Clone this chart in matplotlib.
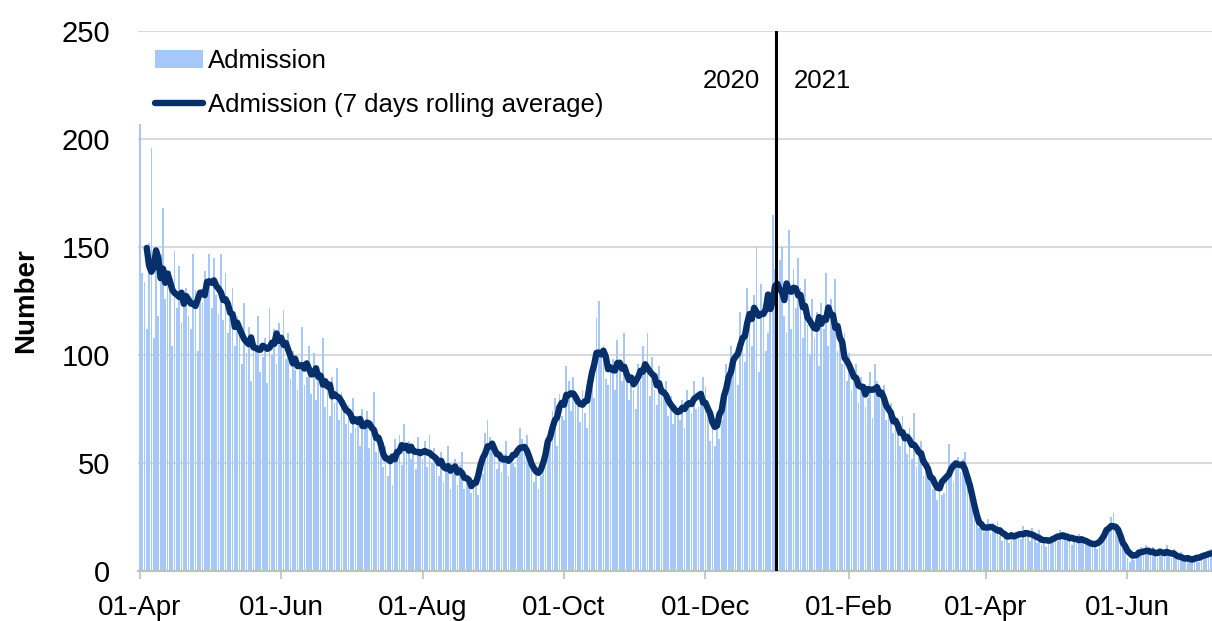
import numpy as np
import pandas as pd
import matplotlib
matplotlib.use('Agg')
import matplotlib.pyplot as plt
import matplotlib.dates as mdates

plt.rcParams['font.family'] = ['Liberation Sans', 'DejaVu Sans']

start_date = '2020-04-01'
apr20 = [207, 138, 134, 112, 152, 196, 108, 150, 118, 147, 168, 126, 132, 139, 104, 148, 122, 141, 115, 127,
         131, 118, 112, 147, 130, 102, 126, 124, 139, 134]
may20 = [147, 122, 145, 128, 119, 147, 116, 138, 110, 120, 131, 104, 118, 112, 96, 124, 101, 113, 88, 109,
         104, 118, 92, 99, 108, 87, 122, 100, 112, 96, 115]
jun20 = [104, 121, 98, 110, 89, 102, 93, 84, 97, 113, 86, 90, 104, 82, 101, 79, 95, 88, 108, 76,
         86, 72, 90, 78, 94, 70, 83, 79, 68, 77]
jul20 = [64, 80, 66, 72, 58, 75, 68, 74, 57, 66, 83, 55, 62, 60, 48, 58, 44, 53, 40, 61,
         52, 63, 49, 68, 55, 60, 52, 59, 47, 62, 54]
aug20 = [52, 60, 48, 63, 50, 57, 53, 44, 55, 41, 49, 58, 38, 47, 52, 40, 49, 55, 38, 44,
         40, 36, 39, 43, 35, 48, 45, 64, 70, 62, 57]
sep20 = [58, 47, 55, 46, 54, 60, 44, 55, 50, 48, 53, 66, 61, 58, 63, 52, 49, 41, 46, 38,
         44, 52, 48, 60, 62, 74, 80, 58, 82, 72]
oct20 = [70, 95, 88, 74, 90, 81, 78, 69, 84, 73, 66, 88, 92, 80, 117, 125, 101, 104, 89, 86,
         92, 98, 84, 107, 95, 88, 110, 93, 79, 90, 84]
nov20 = [75, 96, 88, 104, 92, 110, 81, 99, 84, 77, 95, 86, 80, 88, 72, 81, 68, 77, 74, 70,
         79, 66, 84, 79, 73, 88, 75, 76, 82, 90]
dec20 = [85, 78, 60, 74, 58, 66, 61, 70, 82, 96, 88, 104, 91, 98, 86, 120, 108, 97, 131, 115,
         104, 128, 150, 92, 133, 118, 102, 110, 128, 165, 140]
jan21 = [86, 144, 150, 118, 110, 158, 112, 140, 122, 145, 131, 108, 135, 114, 100, 126, 108, 120, 95, 124,
         112, 138, 104, 126, 115, 135, 102, 110, 96, 110, 88]
feb21 = [101, 84, 92, 96, 78, 90, 85, 76, 80, 92, 71, 96, 88, 84, 79, 86, 70, 75, 78, 64,
         72, 68, 58, 72, 60, 54, 66, 52]
mar21 = [73, 48, 56, 60, 44, 52, 49, 46, 38, 42, 33, 40, 35, 36, 44, 59, 50, 41, 48, 53,
         46, 52, 55, 48, 44, 30, 28, 22, 20, 21, 18]
apr21 = [19, 24, 17, 22, 20, 23, 16, 14, 19, 18, 13, 17, 15, 16, 18, 15, 21, 16, 19, 14,
         20, 17, 13, 19, 12, 15, 11, 14, 16, 13]
may21 = [17, 14, 19, 15, 18, 16, 17, 12, 15, 13, 17, 14, 16, 13, 15, 12, 11, 13, 10, 14,
         12, 18, 16, 21, 25, 27, 19, 20, 17, 14, 12]
jun21 = [6, 4, 8, 5, 9, 7, 11, 8, 12, 9, 7, 11, 8, 6, 10, 7, 9, 12, 8, 6,
         10, 7, 5, 9, 6, 4, 5, 6, 5, 7]
jul21 = [6, 4, 7, 8, 6, 9, 10, 8, 7, 9]

tick_dates = ['2020-04-01', '2020-06-01', '2020-08-01', '2020-10-01', '2020-12-01',
              '2021-02-01', '2021-04-01', '2021-06-01']
y_ticks = [0, 50, 100, 150, 200, 250]
year_labels = ['2020', '2021']
year_break = '2021-01-01'

admissions = (apr20 + may20 + jun20 + jul20 + aug20 + sep20 + oct20 + nov20 + dec20 +
              jan21 + feb21 + mar21 + apr21 + may21 + jun21 + jul21)
dates = pd.date_range(start_date, periods=len(admissions), freq='D')
series = pd.Series(admissions, index=dates, dtype=float)
rolling = series.rolling(7, center=True).mean()

fig = plt.figure(figsize=(12.12, 6.21), dpi=100)
ax = fig.add_axes([0.114, 0.0805, 0.886, 0.8695])

bar_color = '#a6c8f8'
line_color = '#07306b'

bars = ax.bar(dates, series.values, width=0.75, color=bar_color, label='Admission', zorder=2)
line, = ax.plot(dates, rolling.values, color=line_color, lw=4.6,
                label='Admission (7 days rolling average)',
                zorder=3, solid_capstyle='round', solid_joinstyle='round')

brk = mdates.date2num(pd.Timestamp(year_break)) - 0.5
ax.axvline(brk, color='black', lw=2.2, zorder=4)
ax.text(brk - 7, 227, year_labels[0], ha='right', va='center', fontsize=18.5)
ax.text(brk + 7.5, 227, year_labels[1], ha='left', va='center', fontsize=18.5)

x0 = mdates.date2num(pd.Timestamp(start_date)) - 0.7
x1 = mdates.date2num(pd.Timestamp(start_date)) + 462.5
ax.set_xlim(x0, x1)
ax.set_ylim(0, 250)
ax.set_yticks(y_ticks)
ax.yaxis.grid(True, color='#d9d9d9', lw=1.5, zorder=0)
ax.set_axisbelow(True)

ax.set_xticks([mdates.date2num(pd.Timestamp(d)) for d in tick_dates])
ax.xaxis.set_major_formatter(mdates.DateFormatter('%d-%b'))
ax.tick_params(axis='x', length=6, width=1.2, color='#bfbfbf', labelsize=20, pad=11)
ax.tick_params(axis='y', length=0, labelsize=21, pad=20)

for side in ['top', 'right', 'left']:
    ax.spines[side].set_visible(False)
ax.spines['bottom'].set_color('#bfbfbf')
ax.spines['bottom'].set_linewidth(1.5)

ax.set_ylabel('Number', fontsize=20, fontweight='bold', labelpad=16)

ax.legend(handles=[bars, line], loc='upper left', bbox_to_anchor=(0.0158, 0.966), frameon=False,
          fontsize=18.5, handlelength=1.87, handletextpad=0.2, labelspacing=0.76,
          borderaxespad=0, borderpad=0)

fig.savefig('out.png', dpi=100)
